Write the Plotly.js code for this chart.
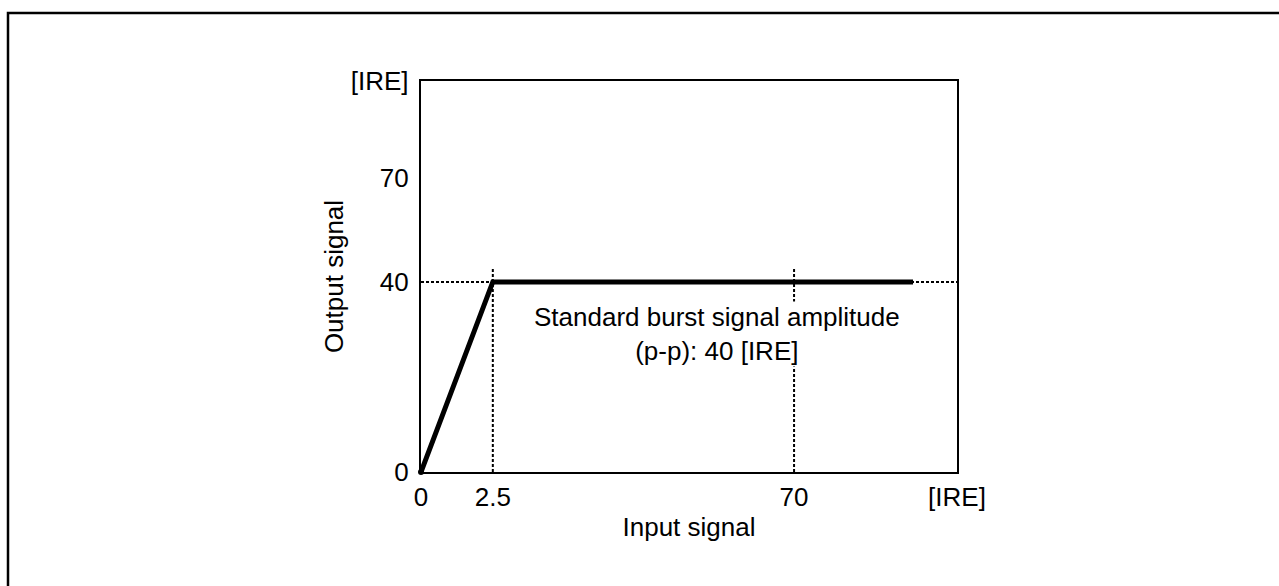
<!DOCTYPE html>
<html>
<head>
<meta charset="utf-8">
<script src="https://cdn.plot.ly/plotly-3.0.1.min.js"></script>
<style>html,body{margin:0;padding:0;background:#fff;}#chart{width:1279px;height:586px;}</style>
</head>
<body>
<div id="chart"></div>
<script>
// Schematic (non-linear) axes: tick labels and the schematic positions they sit at
const xTickLabels = ['0', '2.5', '70', '[IRE]'];
const xTickPos = [0, 13.4, 69.6, 100];
const yTickLabels = ['0', '40', '70', '[IRE]'];
const yTickPos = [0, 48.6, 75.2, 100];

// Characteristic: input 0 -> 0, input 2.5 -> 40, then flat at 40
const curveX = [0, 13.4, 91.8];
const curveY = [0, 48.6, 48.6];

// Dotted guide lines
const guide40X = [0, 100];
const guide40Y = [48.6, 48.6];
const guide25X = [13.4, 13.4];
const guide25Y = [0, 52.2];
const guide70X = [69.6, 69.6];
const guide70Y = [0, 52.2];

const annText = 'Standard burst signal amplitude<br>(p-p): 40 [IRE]';
const annX = 55.3;
const annY = 35.3;

const FONT = 'Liberation Sans, Arial, sans-serif';
const dotLine = {color: '#000', width: 2, dash: '3px,2px'};

const traces = [
  {x: guide40X, y: guide40Y, mode: 'lines', line: dotLine, hoverinfo: 'skip'},
  {x: guide25X, y: guide25Y, mode: 'lines', line: dotLine, hoverinfo: 'skip'},
  {x: guide70X, y: guide70Y, mode: 'lines', line: dotLine, hoverinfo: 'skip'},
  {x: curveX, y: curveY, mode: 'lines', line: {color: '#000', width: 5}, hoverinfo: 'skip'},
  {x: [curveX[0]], y: [curveY[0]], mode: 'markers', marker: {color: '#000', size: 6}, hoverinfo: 'skip', cliponaxis: false}
];

const W = 1279, H = 586, L = 421, R = 957, T = 81, B = 472;
const pw = R - L, ph = B - T;
const px = v => (v - L) / pw;
const py = v => (B - v) / ph;

const layout = {
  width: W, height: H,
  margin: {l: L, r: W - R, t: T, b: H - B, pad: 0},
  paper_bgcolor: '#fff', plot_bgcolor: '#fff',
  showlegend: false,
  font: {family: FONT, size: 26, color: '#000'},
  xaxis: {
    range: [0, 100], tickvals: xTickPos, ticktext: xTickLabels,
    showgrid: false, zeroline: false, showline: true, mirror: true,
    linecolor: '#000', linewidth: 2.2,
    ticks: 'outside', ticklen: 1, tickcolor: 'rgba(0,0,0,0)',
    tickfont: {family: FONT, size: 26, color: '#000'},
    title: {text: 'Input signal', font: {family: FONT, size: 26, color: '#000'}, standoff: 6},
    fixedrange: true
  },
  yaxis: {
    range: [0, 100], tickvals: yTickPos, ticktext: yTickLabels,
    showgrid: false, zeroline: false, showline: true, mirror: true,
    linecolor: '#000', linewidth: 2.2,
    ticks: 'outside', ticklen: 5, tickcolor: 'rgba(0,0,0,0)',
    tickfont: {family: FONT, size: 26, color: '#000'},
    title: {text: 'Output signal', font: {family: FONT, size: 26, color: '#000'}, standoff: 0},
    fixedrange: true
  },
  annotations: [{
    x: annX, y: annY, xref: 'x', yref: 'y', text: annText, showarrow: false,
    align: 'center', bgcolor: '#fff', borderpad: 0,
    font: {family: FONT, size: 26, color: '#000'}
  }],
  shapes: [{
    type: 'path', xref: 'paper', yref: 'paper',
    path: 'M ' + px(8) + ' ' + py(590) + ' L ' + px(8) + ' ' + py(13) + ' L ' + px(1290) + ' ' + py(13),
    line: {color: '#000', width: 2.5}
  }]
};

Plotly.newPlot('chart', traces, layout, {displayModeBar: false, staticPlot: true});
</script>
</body>
</html>
